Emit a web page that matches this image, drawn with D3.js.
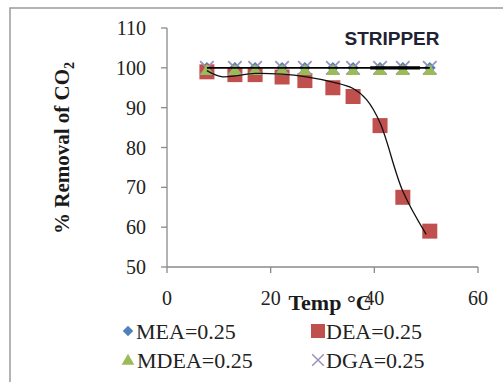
<!DOCTYPE html>
<html><head><meta charset="utf-8">
<script src="https://cdn.jsdelivr.net/npm/d3@7"></script>
<style>body{margin:0;background:#fff}svg{display:block}
.serif{font-family:"Liberation Serif","Times New Roman","DejaVu Serif",serif}
.sans{font-family:"Liberation Sans",Arial,sans-serif}</style>
</head><body>
<script>
const temps = [7.7, 13.1, 17.0, 22.2, 26.6, 32.0, 35.9, 41.1, 45.5, 50.7];
const mea  = [100, 100, 100, 100, 100, 100, 100, 100, 100, 100];
const dea  = [99.0, 98.3, 98.3, 97.7, 96.8, 95.0, 92.8, 85.5, 67.5, 59.0];
const mdea = [99.4, 99.4, 99.4, 99.4, 99.4, 99.4, 99.4, 99.4, 99.4, 99.4];
const dga  = [100, 100, 100, 100, 100, 100, 100, 100, 100, 100];
const deaTrend = [99.3, 97.8, 98.6, 98.4, 97.8, 96.4, 94.8, 92.0, 86.2, 69.0, 58.2];
const deaTrendX = [7.7, 10.5, 17.0, 22.2, 26.6, 32.0, 35.9, 38.5, 41.1, 45.5, 50.0];
const xTicks = [0, 20, 40, 60];
const yTicks = [50, 60, 70, 80, 90, 100, 110];
const seriesNames = ["MEA=0.25", "DEA=0.25", "MDEA=0.25", "DGA=0.25"];

const W = 503, H = 382;
const svg = d3.select("body").append("svg").attr("width", W).attr("height", H);
svg.append("rect").attr("x", 10).attr("y", 8).attr("width", 500).attr("height", 390)
  .attr("fill", "#fff").attr("stroke", "#9a9a9a").attr("stroke-width", 1.5);

const x = d3.scaleLinear().domain([0, 60]).range([167, 478]);
const y = d3.scaleLinear().domain([50, 110]).range([267, 28]);

// axes
const ax = svg.append("g");
ax.append("line").attr("x1", x(0)).attr("x2", x(60)).attr("y1", y(50)).attr("y2", y(50)).attr("stroke", "#8a8a8a").attr("stroke-width", 1.3);
ax.append("line").attr("x1", x(0)).attr("x2", x(0)).attr("y1", y(50)).attr("y2", y(110)).attr("stroke", "#8a8a8a").attr("stroke-width", 1.3);
yTicks.forEach(t => {
  ax.append("line").attr("x1", x(0) - 6).attr("x2", x(0)).attr("y1", y(t)).attr("y2", y(t)).attr("stroke", "#8a8a8a").attr("stroke-width", 1.3);
  ax.append("text").attr("class", "serif").attr("x", x(0) - 21).attr("y", y(t) + 7).attr("text-anchor", "end")
    .attr("font-size", 20).attr("fill", "#222").text(t);
});
xTicks.forEach(t => {
  ax.append("line").attr("x1", x(t)).attr("x2", x(t)).attr("y1", y(50)).attr("y2", y(50) + 6).attr("stroke", "#8a8a8a").attr("stroke-width", 1.3);
  ax.append("text").attr("class", "serif").attr("x", x(t)).attr("y", 305).attr("text-anchor", "middle")
    .attr("font-size", 20).attr("fill", "#222").text(t);
});

// titles
svg.append("text").attr("class", "serif").attr("x", 330).attr("y", 310).attr("text-anchor", "middle")
  .attr("font-size", 22).attr("font-weight", "bold").attr("fill", "#1a1a1a").text("Temp °C");
const yt = svg.append("text").attr("class", "serif").attr("transform", "translate(69,148) rotate(-90)").attr("text-anchor", "middle")
  .attr("font-size", 21).attr("font-weight", "bold").attr("fill", "#1a1a1a");
yt.append("tspan").text("% Removal of CO");
yt.append("tspan").attr("font-size", 14).attr("dy", 5).text("2");
svg.append("text").attr("class", "sans").attr("x", 392).attr("y", 45).attr("text-anchor", "middle")
  .attr("font-size", 19).attr("font-weight", "bold").attr("fill", "#1e2233").text("STRIPPER");

const blue = "#4f81bd", red = "#c0504d", green = "#9bbb59", lilac = "#9c90b8";
const pts = (arr) => arr.map((v, i) => [temps[i], v]);

// markers
const g = svg.append("g");
g.selectAll(".mea").data(pts(mea)).join("path").attr("d", d3.symbol(d3.symbolDiamond2, 90))
  .attr("transform", d => `translate(${x(d[0])},${y(d[1])})`).attr("fill", blue);
g.selectAll(".dea").data(pts(dea)).join("rect")
  .attr("x", d => x(d[0]) - 7.5).attr("y", d => y(d[1]) - 7.5).attr("width", 15).attr("height", 15).attr("fill", red);
g.selectAll(".dga").data(pts(dga)).join("path").attr("d", d3.symbol(d3.symbolTimes, 120))
  .attr("transform", d => `translate(${x(d[0])},${y(d[1])})`).attr("stroke", lilac).attr("stroke-width", 1.8).attr("fill", "none");
g.selectAll(".mdea").data(pts(mdea)).join("path").attr("d", d3.symbol(d3.symbolTriangle, 75))
  .attr("transform", d => `translate(${x(d[0])},${y(d[1]) + 1})`).attr("fill", green);

// trend lines
const line = d3.line().x(d => x(d[0])).y(d => y(d[1]));
svg.append("path").datum(pts(mea)).attr("d", line).attr("fill", "none").attr("stroke", "#000").attr("stroke-width", 1.6);
svg.append("path").datum(pts(dga).slice(7)).attr("d", line).attr("fill", "none")
  .attr("stroke", "#000").attr("stroke-width", 3.2)
  .attr("transform", `translate(${x(39.2) - x(temps[7])},0)`);
const smooth = d3.line().x(d => x(d[0])).y(d => y(d[1])).curve(d3.curveCatmullRom.alpha(0.5));
svg.append("path").datum(deaTrendX.map((t, i) => [t, deaTrend[i]])).attr("d", smooth)
  .attr("fill", "none").attr("stroke", "#111").attr("stroke-width", 1.3);

// legend
const lg = svg.append("g").attr("class", "serif").attr("font-size", 22).attr("fill", "#222");
const legendPos = [[128, 331], [318, 331], [128, 360], [318, 360]];
lg.append("path").attr("d", d3.symbol(d3.symbolDiamond2, 70)).attr("transform", `translate(${legendPos[0][0]},${legendPos[0][1]})`).attr("fill", blue);
lg.append("rect").attr("x", legendPos[1][0] - 7).attr("y", legendPos[1][1] - 7).attr("width", 14).attr("height", 14).attr("fill", red);
lg.append("path").attr("d", d3.symbol(d3.symbolTriangle, 70)).attr("transform", `translate(${legendPos[2][0]},${legendPos[2][1] + 1})`).attr("fill", green);
lg.append("path").attr("d", d3.symbol(d3.symbolTimes, 90)).attr("transform", `translate(${legendPos[3][0]},${legendPos[3][1]})`).attr("stroke", lilac).attr("stroke-width", 1.5);
seriesNames.forEach((n, i) => {
  lg.append("text").attr("x", legendPos[i][0] + (i === 2 ? 9 : 8)).attr("y", legendPos[i][1] + 8).text(n);
});
</script>
</body></html>
